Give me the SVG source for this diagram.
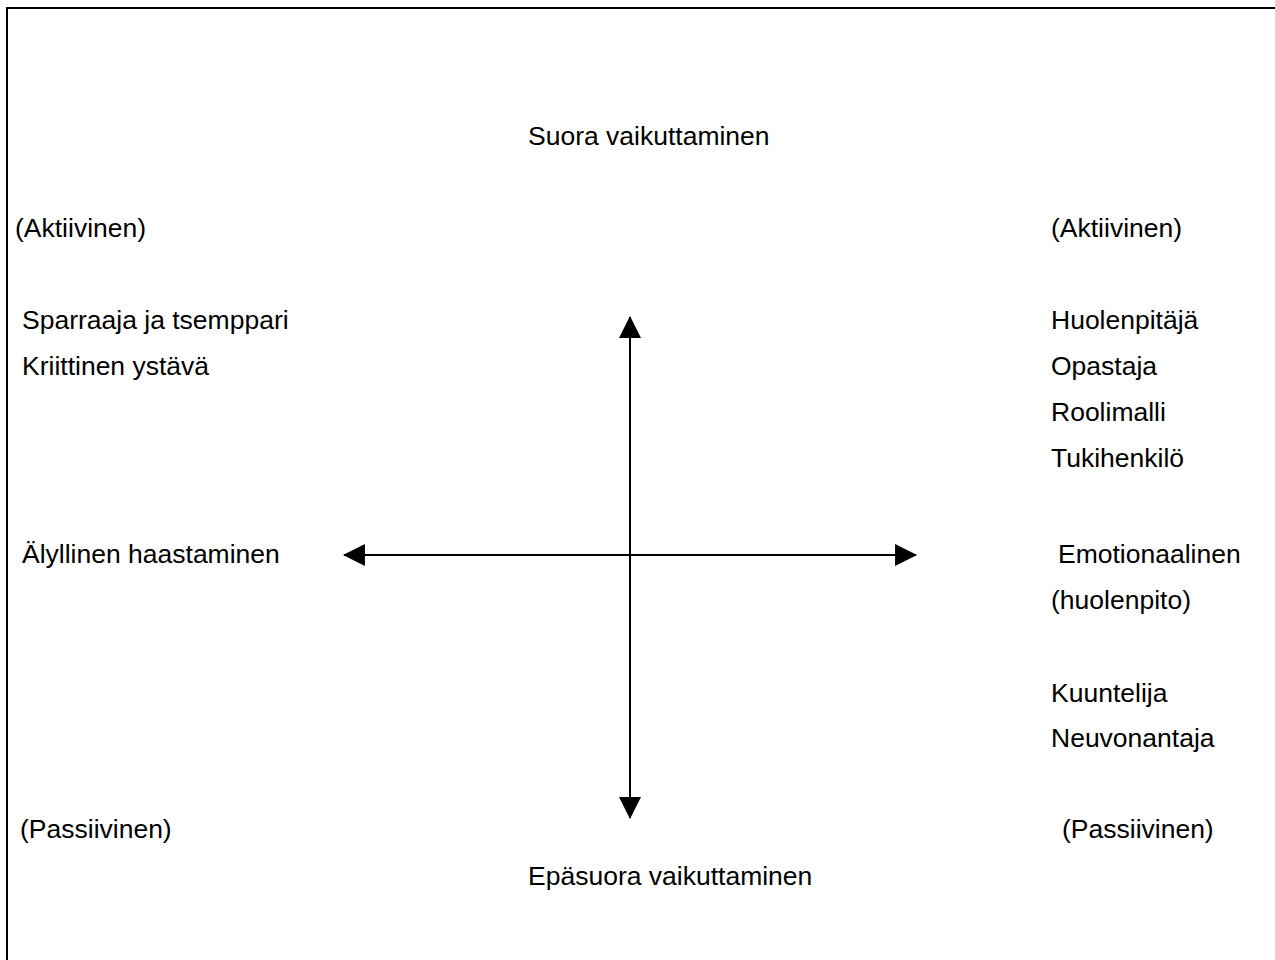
<svg xmlns="http://www.w3.org/2000/svg" width="1275" height="960" viewBox="0 0 1275 960">
<style>
text{font-family:"Liberation Sans",Arial,sans-serif;font-size:26.5px;fill:#000}
.ax{stroke:#000;stroke-width:2;fill:none}
</style>
<defs>
<marker id="ah" markerUnits="userSpaceOnUse" markerWidth="22" markerHeight="22" viewBox="0 0 21 21" refX="20" refY="10.5" orient="auto-start-reverse">
<path d="M0,0 L21,10.5 L0,21 Z" fill="#000"/>
</marker>
</defs>
<rect x="7" y="8" width="1300" height="1000" fill="#fff" stroke="#000" stroke-width="2"/>
<g id="connectors">
<line class="ax" x1="630" y1="317" x2="630" y2="818" marker-start="url(#ah)" marker-end="url(#ah)"/>
<line class="ax" x1="344" y1="555" x2="916" y2="555" marker-start="url(#ah)" marker-end="url(#ah)"/>
</g>
<g id="top"><text x="528" y="145">Suora vaikuttaminen</text></g>
<g id="bottom"><text x="528" y="885">Epäsuora vaikuttaminen</text></g>
<g id="left-active"><text x="15" y="237">(Aktiivinen)</text></g>
<g id="right-active"><text x="1051" y="237">(Aktiivinen)</text></g>
<g id="left-roles">
<text x="22" y="329">Sparraaja ja tsemppari</text>
<text x="22" y="375">Kriittinen ystävä</text>
</g>
<g id="right-roles">
<text x="1051" y="329">Huolenpitäjä</text>
<text x="1051" y="375">Opastaja</text>
<text x="1051" y="421">Roolimalli</text>
<text x="1051" y="467">Tukihenkilö</text>
</g>
<g id="left-mid"><text x="22" y="563">Älyllinen haastaminen</text></g>
<g id="right-mid">
<text x="1058" y="563">Emotionaalinen</text>
<text x="1051" y="609">(huolenpito)</text>
</g>
<g id="right-lower">
<text x="1051" y="702">Kuuntelija</text>
<text x="1051" y="747">Neuvonantaja</text>
</g>
<g id="left-passive"><text x="20" y="838">(Passiivinen)</text></g>
<g id="right-passive"><text x="1062" y="838">(Passiivinen)</text></g>
</svg>
